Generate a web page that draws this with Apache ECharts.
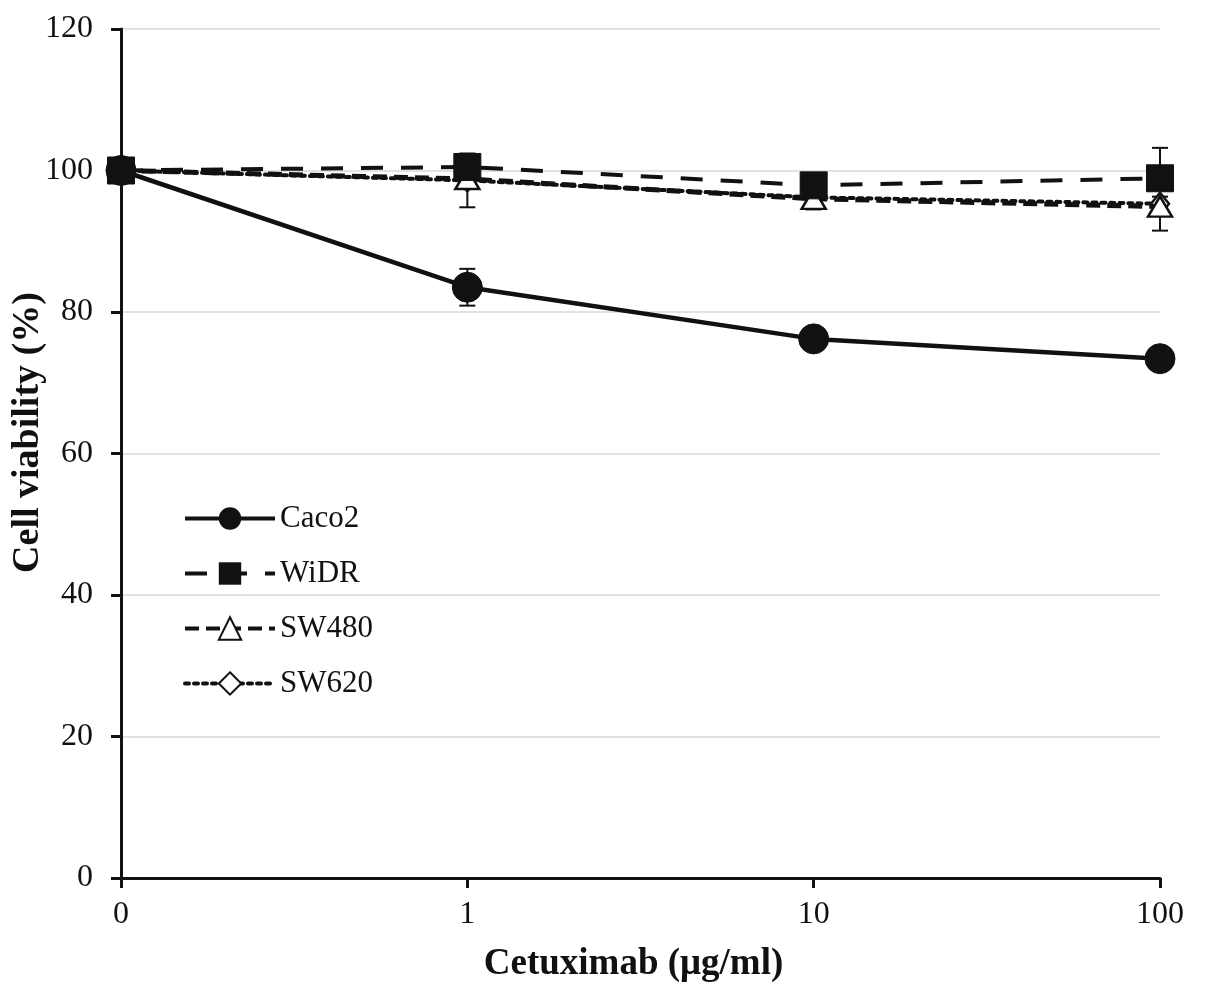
<!DOCTYPE html>
<html><head><meta charset="utf-8">
<script src="https://cdn.jsdelivr.net/npm/echarts@6/dist/echarts.min.js"></script>
<style>html,body{margin:0;padding:0;background:#fff}#c{width:1205px;height:998px}</style>
</head><body><div id="c"></div>
<script>
const categories = ['0', '1', '10', '100'];
const caco2 = [100, 83.5, 76.2, 73.4];
const caco2Err = [0, 2.6, 1.0, 1.0];
const widr = [100, 100.5, 97.9, 98.9];
const widrErr = [0, 1.0, 1.2, 4.3];
const sw480 = [100, 98.8, 96.0, 94.9];
const sw480Err = [0, 1.0, 1.5, 3.4];
const sw620 = [100, 98.6, 96.2, 95.3];
const sw620Err = [0, 3.8, 1.0, 1.0];

const font = 'Liberation Serif';
function errSeries(vals, errs) {
  return {
    type: 'custom', silent: true, z: 1,
    data: vals.map((v, i) => [i, v, errs[i]]),
    renderItem: function (params, api) {
      const x = api.value(0), y = api.value(1), e = api.value(2);
      if (!e) return null;
      const top = api.coord([x, y + e]);
      const bot = api.coord([x, y - e]);
      const w = 8;
      const st = { stroke: '#111', lineWidth: 2 };
      return { type: 'group', children: [
        { type: 'line', shape: { x1: top[0], y1: top[1], x2: bot[0], y2: bot[1] }, style: st },
        { type: 'line', shape: { x1: top[0] - w, y1: top[1], x2: top[0] + w, y2: top[1] }, style: st },
        { type: 'line', shape: { x1: bot[0] - w, y1: bot[1], x2: bot[0] + w, y2: bot[1] }, style: st }
      ]};
    }
  };
}
const chart = echarts.init(document.getElementById('c'));
chart.setOption({
  animation: false,
  backgroundColor: '#fff',
  grid: { left: 121, right: 45, top: 29, bottom: 120, containLabel: false, outerBoundsMode: 'none' },
  legend: {
    orient: 'vertical', left: 178, top: 498, itemWidth: 90, itemHeight: 28, itemGap: 24,
    textStyle: { fontFamily: font, fontSize: 31, color: '#111' },
    lineStyle: { width: 4 },
    data: ['Caco2', 'WiDR', 'SW480', 'SW620']
  },
  xAxis: {
    type: 'category', data: categories, boundaryGap: false,
    name: 'Cetuximab (μg/ml)', nameLocation: 'middle', nameGap: 68, nameMoveOverlap: false,
    nameTextStyle: { fontFamily: font, fontSize: 37, fontWeight: 'bold', color: '#111', padding: [0, 14, 0, 0] },
    axisLine: { lineStyle: { color: '#111', width: 3 } },
    axisTick: { length: 10, lineStyle: { color: '#111', width: 3 } },
    axisLabel: { fontFamily: font, fontSize: 32, color: '#111', margin: 21 },
    splitLine: { show: false }
  },
  yAxis: {
    type: 'value', min: 0, max: 120, interval: 20,
    name: 'Cell viability (%)', nameLocation: 'middle', nameGap: 74, nameMoveOverlap: false,
    nameTextStyle: { fontFamily: font, fontSize: 38, fontWeight: 'bold', color: '#111', padding: [0, 0, 0, 42] },
    axisLine: { show: true, lineStyle: { color: '#111', width: 3 } },
    axisTick: { show: true, length: 10, lineStyle: { color: '#111', width: 3 } },
    axisLabel: { fontFamily: font, fontSize: 32, color: '#111', margin: 28 },
    splitLine: { lineStyle: { color: '#d9d9d9', width: 1.5 } }
  },
  series: [
    errSeries(caco2, caco2Err), errSeries(widr, widrErr), errSeries(sw480, sw480Err), errSeries(sw620, sw620Err),
    { name: 'SW620', type: 'line', data: sw620, z: 2, symbol: 'diamond', symbolSize: [18, 22],
      lineStyle: { color: '#111', width: 4, type: [4, 5], cap: 'round' },
      itemStyle: { color: '#fff', borderColor: '#111', borderWidth: 2.5 } },
    { name: 'SW480', type: 'line', data: sw480, z: 3, symbol: 'triangle', symbolSize: [24, 20],
      lineStyle: { color: '#111', width: 5, type: [14, 7] },
      itemStyle: { color: '#fff', borderColor: '#111', borderWidth: 2.5 } },
    { name: 'Caco2', type: 'line', data: caco2, z: 4, symbol: 'circle', symbolSize: 30,
      lineStyle: { color: '#111', width: 4.5 },
      itemStyle: { color: '#111', borderColor: '#111' } },
    { name: 'WiDR', type: 'line', data: widr, z: 5, symbol: 'rect', symbolSize: 27,
      lineStyle: { color: '#111', width: 4, type: [22, 18] },
      itemStyle: { color: '#111', borderColor: '#111' } }
  ]
});
</script></body></html>
